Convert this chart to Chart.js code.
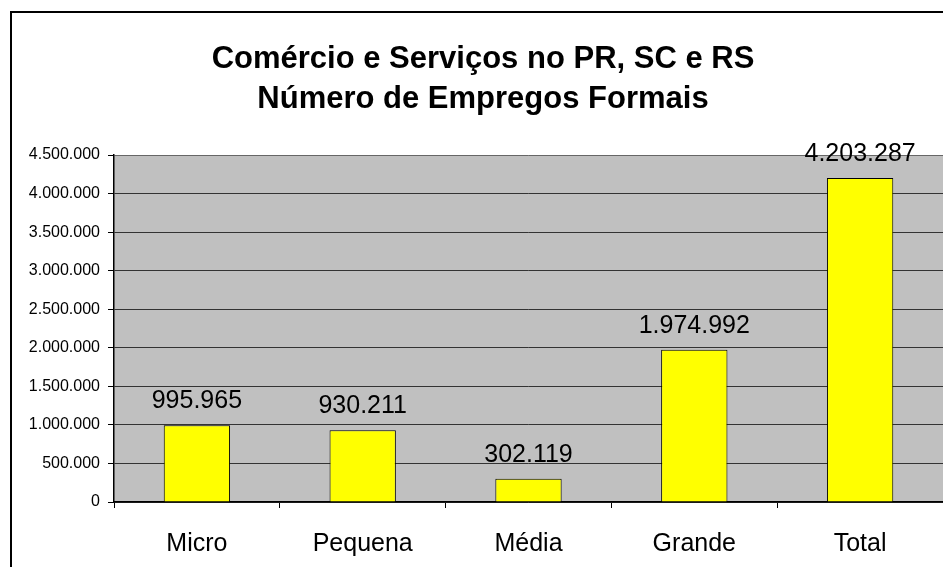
<!DOCTYPE html>
<html lang="pt">
<head>
  <meta charset="UTF-8" />
  <title>Comércio e Serviços no PR, SC e RS</title>
  <style>
    body {
      margin: 0;
      background: #fff;
    }
    #chart {
      display: block;
    }
  </style>
</head>
<body>
  <canvas id="chart" width="943" height="567"></canvas>

  <script src="https://cdn.jsdelivr.net/npm/chart.js"></script>
  <script>
    const categories = ['Micro', 'Pequena', 'Média', 'Grande', 'Total'];
    const empregos = [995965, 930211, 302119, 1974992, 4203287];
    const titleLines = ['Comércio e Serviços no PR, SC e RS', 'Número de Empregos Formais'];

    const FONT = "Arial, 'Liberation Sans', sans-serif";

    function fmt(n) {
      return String(Math.round(n)).replace(/\B(?=(\d{3})+(?!\d))/g, '.');
    }

    // moldura externa, titulo e fundo cinza da area de plotagem
    const frame = {
      id: 'frame',
      beforeDraw(chart) {
        const ctx = chart.ctx;
        const a = chart.chartArea;
        ctx.save();
        ctx.fillStyle = '#c0c0c0';
        ctx.fillRect(a.left, a.top, a.right - a.left, a.bottom - a.top);
        ctx.strokeStyle = '#000';
        ctx.lineWidth = 2;
        ctx.beginPath();
        ctx.moveTo(11, chart.height + 2);
        ctx.lineTo(11, 12);
        ctx.lineTo(chart.width + 2, 12);
        ctx.stroke();

        ctx.fillStyle = '#000';
        ctx.font = 'bold 31px ' + FONT;
        ctx.textAlign = 'center';
        ctx.textBaseline = 'middle';
        titleLines.forEach((t, i) => ctx.fillText(t, 483, 59 + i * 40));
        ctx.restore();
      }
    };

    // rotulos de valor acima das barras
    const valueLabels = {
      id: 'valueLabels',
      afterDatasetsDraw(chart) {
        const ctx = chart.ctx;
        const meta = chart.getDatasetMeta(0);
        ctx.save();
        ctx.font = '25px ' + FONT;
        ctx.fillStyle = '#000';
        ctx.textAlign = 'center';
        ctx.textBaseline = 'alphabetic';
        meta.data.forEach((bar, i) => {
          ctx.fillText(fmt(empregos[i]), bar.x, bar.y - 17);
        });
        ctx.restore();
      }
    };

    new Chart(document.getElementById('chart'), {
      type: 'bar',
      data: {
        labels: categories,
        datasets: [{
          data: empregos,
          backgroundColor: '#ffff00',
          borderColor: '#000',
          borderWidth: 1,
          barPercentage: 0.8,
          categoryPercentage: 0.5
        }]
      },
      options: {
        responsive: false,
        animation: false,
        layout: { padding: { left: 0, right: 0, top: 155, bottom: 0 } },
        plugins: {
          legend: { display: false },
          tooltip: { enabled: false },
          title: { display: false }
        },
        scales: {
          x: {
            grid: {
              drawOnChartArea: false,
              color: '#000',
              tickLength: 6,
              offset: true
            },
            border: { color: '#000', width: 1.5 },
            ticks: {
              color: '#000',
              padding: 21,
              font: { family: FONT, size: 25 }
            },
            afterFit(scale) { scale.height = 65; }
          },
          y: {
            min: 0,
            max: 4500000,
            grid: {
              color: (c) => c.index === 9 ? '#666' : '#333',
              tickColor: '#000',
              tickLength: 6
            },
            border: { color: '#000', width: 1.5 },
            ticks: {
              stepSize: 500000,
              color: '#000',
              padding: 8,
              font: { family: FONT, size: 16 },
              callback: (v) => fmt(v)
            },
            afterFit(scale) { scale.width = 114; }
          }
        }
      },
      plugins: [frame, valueLabels]
    });
  </script>
</body>
</html>
